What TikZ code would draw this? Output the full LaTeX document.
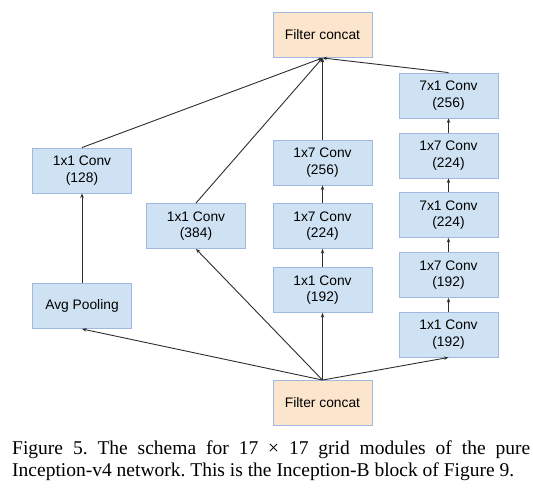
\documentclass[tikz,border=0pt]{standalone}
\usepackage{fontspec}
\setmainfont{Liberation Serif}
\newfontfamily\boxfont{Liberation Sans}
\usepackage{xcolor}
\definecolor{ConvFill}{RGB}{207,226,243}
\definecolor{CatFill}{RGB}{252,229,205}
\definecolor{BoxLine}{RGB}{160,184,222}
\definecolor{EdgeCol}{RGB}{45,45,45}
\usetikzlibrary{arrows.meta}
\frenchspacing
\tikzstyle{Conv}=[rectangle,draw=BoxLine,fill=ConvFill,line width=0.9pt,
minimum width=99pt,minimum height=45pt,inner sep=0pt,align=center,
font=\boxfont\fontsize{13.8}{16.5}\selectfont]
\tikzstyle{Concat}=[Conv,fill=CatFill]
\tikzstyle{Edge}=[draw=EdgeCol,line width=0.9pt,
-{Stealth[length=4.5pt,width=3.5pt]}]
\tikzstyle{Caption}=[anchor=north west,inner sep=0pt,text width=518pt,
align=justify,font=\fontsize{19.5}{22}\selectfont]

\begin{document}
\begin{tikzpicture}[x=1pt,y=-1pt]
        \useasboundingbox(0,0)rectangle(533,491);
        \node[Concat](top)at(322.5,35.0){Filter concat};
        \node[Concat](bot)at(322.5,403.0){Filter concat};
        % pooling branch
        \node[Conv](a1)at(82.0,170.5){1x1 Conv\\(128)};
        \node[Conv](a2)at(82.0,306.0){Avg Pooling};
        % single conv
        \node[Conv](b1)at(196.0,226.0){1x1 Conv\\(384)};
        % 1x7 branch
        \node[Conv](c1)at(322.5,162.5){1x7 Conv\\(256)};
        \node[Conv](c2)at(322.5,226.0){1x7 Conv\\(224)};
        \node[Conv](c3)at(322.5,290.0){1x1 Conv\\(192)};
        % 7x1 / 1x7 branch
        \node[Conv](d1)at(448.5,95.5){7x1 Conv\\(256)};
        \node[Conv](d2)at(448.5,155.5){1x7 Conv\\(224)};
        \node[Conv](d3)at(448.5,215.0){7x1 Conv\\(224)};
        \node[Conv](d4)at(448.5,275.0){1x7 Conv\\(192)};
        \node[Conv](d5)at(448.5,334.5){1x1 Conv\\(192)};
        \draw[Edge](bot.north)--(a2.south);
        \draw[Edge](a2)--(a1);
        \draw[Edge](a1.north)--(top.south);
        \draw[Edge](bot.north)--(b1.south);
        \draw[Edge](b1.north)--(top.south);
        \draw[Edge](bot)--(c3);
        \draw[Edge](c3)--(c2);
        \draw[Edge](c2)--(c1);
        \draw[Edge](c1)--(top);
        \draw[Edge](bot.north)--(d5.south);
        \draw[Edge](d5)--(d4);
        \draw[Edge](d4)--(d3);
        \draw[Edge](d3)--(d2);
        \draw[Edge](d2)--(d1);
        \draw[Edge](d1.north)--(top.south);
        \node[Caption](cap)at(12,441){Figure 5. The schema for 17 × 17
            grid modules of the pure\linebreak Inception-v4 network. This
            is the Inception-B block of Figure 9.};
    \end{tikzpicture}
\end{document}
